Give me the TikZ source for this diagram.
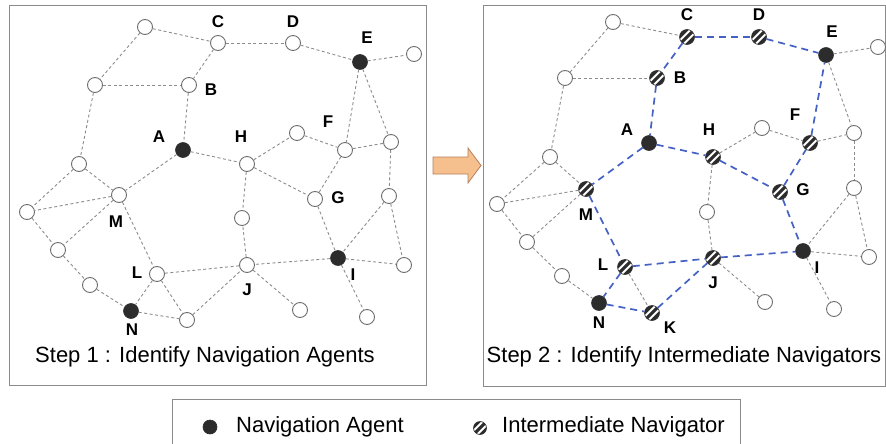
\documentclass[tikz,border=0pt]{standalone}
\usepackage{fontspec}
\setmainfont{Liberation Sans}
\definecolor{ndgray}{HTML}{6E6E6E}
\definecolor{edgegray}{HTML}{8C8C8C}
\definecolor{agentc}{HTML}{2C2C2C}
\definecolor{blueedge}{HTML}{4561C4}
\definecolor{boxgray}{HTML}{8A8A8A}
\definecolor{arrowfill}{HTML}{F6C08E}
\definecolor{arrowdraw}{HTML}{B8805A}
\tikzset{
 onode/.style={circle, draw=ndgray, fill=white, line width=0.9pt, minimum size=15pt, inner sep=0pt},
 agent/.style={circle, fill=agentc, draw=agentc, line width=0.6pt, minimum size=15pt, inner sep=0pt},
 inter/.style={circle, fill=agentc, draw=agentc, line width=0.6pt, minimum size=15pt, inner sep=0pt,
   path picture={\foreach \d/\e in {-1.9/1.9,1.9/-1.9}{\draw[white,line width=1.9pt] ([shift={(\d pt-8pt,\e pt-8pt)}]path picture bounding box.center) -- ++(16pt,16pt);}}},
 gedge/.style={draw=edgegray, line width=0.9pt, dash pattern=on 3pt off 2.5pt},
 bedge/.style={draw=blueedge, line width=1.7pt, dash pattern=on 7pt off 5pt},
 lbl/.style={font=\bfseries\fontsize{17}{20}\selectfont, inner sep=0pt},
 captext/.style={font=\fontsize{22}{26}\selectfont, inner sep=0pt},
 panel/.style={draw=boxgray, line width=0.9pt},
}
\begin{document}
\begin{tikzpicture}[x=1pt,y=-1pt]
\useasboundingbox (0,0) rectangle (886,444);
% panels
\draw[panel] (9.5,5) rectangle (426.5,385);
\draw[panel] (483,5) rectangle (885.5,386);
\draw[panel] (172,399) rectangle (740,446);
% arrow
\draw[fill=arrowfill, draw=arrowdraw, line width=0.8pt] (433,157) -- (468,157) -- (468,148) -- (481,165.5) -- (468,183) -- (468,174) -- (433,174) -- cycle;

% ---------- left panel ----------
\node[onode] (ap1) at (145,27) {};
\node[onode] (aC) at (218,43) {};
\node[onode] (aD) at (293,43) {};
\node[agent] (aE) at (360,62) {};
\node[onode] (aq1) at (414,54) {};
\node[onode] (ap2) at (95,85) {};
\node[onode] (aB) at (189,85) {};
\node[onode] (aq2) at (297,133) {};
\node[onode] (aF) at (345,150) {};
\node[onode] (aq3) at (391,142) {};
\node[agent] (aA) at (183,150) {};
\node[onode] (aH) at (247,164) {};
\node[onode] (ap3) at (79,164) {};
\node[onode] (aM) at (119,195) {};
\node[onode] (aG) at (315,199) {};
\node[onode] (aq4) at (389,196) {};
\node[onode] (ap4) at (27,212) {};
\node[onode] (aq5) at (242,218) {};
\node[onode] (ap5) at (58,250) {};
\node[agent] (aI) at (338,258) {};
\node[onode] (aq6) at (404,265) {};
\node[onode] (aL) at (157,274) {};
\node[onode] (aJ) at (247,265) {};
\node[onode] (ap6) at (90,285) {};
\node[agent] (aN) at (131,311) {};
\node[onode] (aK) at (187,320) {};
\node[onode] (aq7) at (300,310) {};
\node[onode] (aq8) at (367,317) {};

\foreach \u/\v in {ap1/aC,ap1/ap2,aC/aD,aC/aB,aD/aE,aE/aq1,aE/aF,aE/aq3,ap2/aB,ap2/ap3,aB/aA,aA/aH,aA/aM,aH/aq2,aq2/aF,aF/aq3,aF/aG,aH/aG,aH/aq5,aq3/aq4,aG/aI,aq4/aI,aq4/aq6,aI/aq6,aI/aq8,aI/aJ,ap3/aM,ap3/ap4,aM/ap4,aM/ap5,aM/aL,ap4/ap5,ap5/ap6,ap6/aN,aL/aN,aL/aK,aL/aJ,aN/aK,aK/aJ,aJ/aq5,aJ/aq7}
  \draw[gedge] (\u) -- (\v);

\node[lbl] (laC) at (218,22) {C};
\node[lbl] (laD) at (293,22) {D};
\node[lbl] (laE) at (367,38) {E};
\node[lbl] (laB) at (211,90) {B};
\node[lbl] (laF) at (328,122) {F};
\node[lbl] (laA) at (159,137) {A};
\node[lbl] (laH) at (241,137) {H};
\node[lbl] (laG) at (338,198) {G};
\node[lbl] (laM) at (116,222) {M};
\node[lbl] (laI) at (353,275) {I};
\node[lbl] (laL) at (137,273) {L};
\node[lbl] (laJ) at (247,290) {J};
\node[lbl] (laN) at (132,330) {N};
\node[captext] (capA) at (205,357) {Step 1 : Identify Navigation Agents};

% ---------- right panel ----------
\node[onode] (bp1) at (613,22) {};
\node[inter] (bC) at (687,37) {};
\node[inter] (bD) at (759,37) {};
\node[agent] (bE) at (826,55) {};
\node[onode] (bq1) at (878,47) {};
\node[onode] (bp2) at (565,78) {};
\node[inter] (bB) at (657,78) {};
\node[onode] (bq2) at (762,128) {};
\node[inter] (bF) at (810,143) {};
\node[onode] (bq3) at (854,133) {};
\node[agent] (bA) at (649,143) {};
\node[inter] (bH) at (713,157) {};
\node[onode] (bp3) at (550,157) {};
\node[inter] (bM) at (586,189) {};
\node[inter] (bG) at (780,192) {};
\node[onode] (bq4) at (854,188) {};
\node[onode] (bp4) at (497,204) {};
\node[onode] (bq5) at (707,212) {};
\node[onode] (bp5) at (527,242) {};
\node[agent] (bI) at (803,251) {};
\node[onode] (bq6) at (869,257) {};
\node[inter] (bL) at (625,267) {};
\node[inter] (bJ) at (713,258) {};
\node[onode] (bp6) at (562,276) {};
\node[agent] (bN) at (599,303) {};
\node[inter] (bK) at (652,313) {};
\node[onode] (bq7) at (765,302) {};
\node[onode] (bq8) at (834,309) {};

\foreach \u/\v in {bp1/bC,bp1/bp2,bp2/bB,bp2/bp3,bE/bq1,bE/bq3,bH/bq2,bq2/bF,bF/bq3,bH/bq5,bq3/bq4,bq4/bI,bq4/bq6,bI/bq6,bI/bq8,bp3/bM,bp3/bp4,bM/bp4,bM/bp5,bp4/bp5,bp5/bp6,bp6/bN,bL/bK,bJ/bq5,bJ/bq7}
  \draw[gedge] (\u) -- (\v);
\foreach \u/\v in {bC/bD,bD/bE,bC/bB,bB/bA,bA/bM,bA/bH,bH/bG,bG/bF,bF/bE,bG/bI,bM/bL,bL/bJ,bJ/bI,bL/bN,bN/bK,bK/bJ}
  \draw[bedge] (\u) -- (\v);

\node[lbl] (lbC) at (687,15) {C};
\node[lbl] (lbD) at (759,15) {D};
\node[lbl] (lbE) at (832,32) {E};
\node[lbl] (lbB) at (680,78) {B};
\node[lbl] (lbF) at (795,115) {F};
\node[lbl] (lbA) at (627,130) {A};
\node[lbl] (lbH) at (709,130) {H};
\node[lbl] (lbG) at (803,190) {G};
\node[lbl] (lbM) at (586,215) {M};
\node[lbl] (lbI) at (817,268) {I};
\node[lbl] (lbL) at (603,265) {L};
\node[lbl] (lbJ) at (713,283) {J};
\node[lbl] (lbN) at (599,323) {N};
\node[lbl] (lbK) at (670,328) {K};
\node[captext] (capB) at (684,357) {Step 2 : Identify Intermediate Navigators};

% ---------- legend ----------
\node[agent, minimum size=14pt] (legA) at (210,427) {};
\node[captext, anchor=base west] (legAt) at (236,432) {Navigation Agent};
\node[inter, minimum size=13pt] (legI) at (480,428) {};
\node[captext, anchor=base west] (legIt) at (502,432) {Intermediate Navigator};
\end{tikzpicture}
\end{document}
